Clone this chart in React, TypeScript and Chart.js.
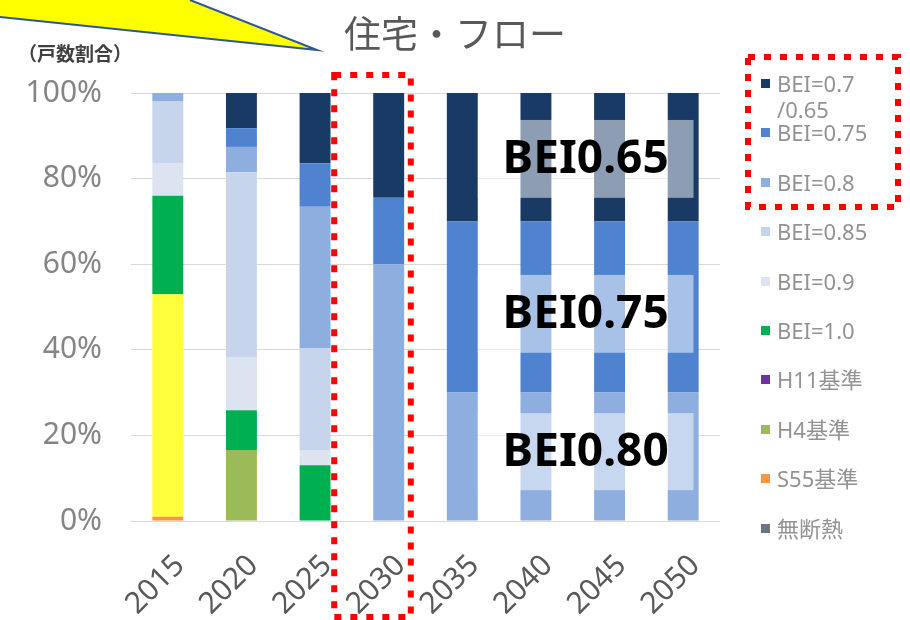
import React, { useEffect, useRef } from 'react';
import { Chart, registerables } from 'chart.js';

Chart.register(...registerables);

// ---- data ----
const years = ['2015', '2020', '2025', '2030', '2035', '2040', '2045', '2050'];
const mudannetsu = [0, 0, 0, 0, 0, 0, 0, 0];
const s55 = [1, 0, 0, 0, 0, 0, 0, 0];
const h4 = [52, 16.6, 0, 0, 0, 0, 0, 0];
const h11 = [0, 0, 0, 0, 0, 0, 0, 0];
const bei100 = [23, 9.3, 13, 0, 0, 0, 0, 0];
const bei090 = [7.5, 12.4, 3.6, 0, 0, 0, 0, 0];
const bei085 = [14.5, 43.2, 23.8, 0, 0, 0, 0, 0];
const bei080 = [2, 5.9, 33, 60, 30, 30, 30, 30];
const bei075 = [0, 4.4, 10.2, 15.5, 40, 40, 40, 40];
const bei070 = [0, 8.2, 16.4, 24.5, 30, 30, 30, 30];

const seriesValues = [mudannetsu, s55, h4, h11, bei100, bei090, bei085, bei080, bei075, bei070];
const seriesNames = ['無断熱', 'S55基準', 'H4基準', 'H11基準', 'BEI=1.0', 'BEI=0.9', 'BEI=0.85', 'BEI=0.8', 'BEI=0.75', 'BEI=0.7\n/0.65'];
const seriesColors = ['#6d7585', '#f79646', '#9bbb59', '#7030a0', '#00b050', '#dde3f1', '#c6d4ec', '#8eaee0', '#4f83cf', '#1a3a66'];
const h4BarColors = ['#ffff3c', '#9bbb59', '#9bbb59', '#9bbb59', '#9bbb59', '#9bbb59', '#9bbb59', '#9bbb59'];

const yTickValues = [0, 20, 40, 60, 80, 100];
const chartTitle = '住宅・フロー';
const yCaption = '（戸数割合）';

const noteTexts = ['BEI0.65', 'BEI0.75', 'BEI0.80'];
const noteLow = [75.5, 39.3, 7.2];
const noteHigh = [93.7, 57.5, 25.2];

const overlayPlugin = {
  id: 'overlayPlugin',
  afterDatasetsDraw(chart: any) {
    const { ctx, scales } = chart;
    const x = scales.x;
    const y = scales.y;
    const cat = x.getPixelForValue(1) - x.getPixelForValue(0);
    const left = x.getPixelForValue(4) + cat * 0.21;
    const right = x.getPixelForValue(7) + cat * 0.14;
    ctx.save();
    noteTexts.forEach((t, i) => {
      const top = y.getPixelForValue(noteHigh[i]);
      const bot = y.getPixelForValue(noteLow[i]);
      ctx.fillStyle = 'rgba(255,255,255,0.5)';
      ctx.fillRect(left, top, right - left, bot - top);
      ctx.fillStyle = '#000000';
      ctx.font = 'bold 46px "Noto Sans", sans-serif';
      ctx.textAlign = 'center';
      ctx.textBaseline = 'middle';
      ctx.fillText(t, (left + right) / 2, (top + bot) / 2 + 1);
    });
    ctx.restore();
  },
  afterDraw(chart: any) {
    const { ctx, scales, chartArea } = chart;
    const x = scales.x;
    const cat = x.getPixelForValue(1) - x.getPixelForValue(0);
    ctx.save();
    // title
    ctx.fillStyle = '#595959';
    ctx.font = '37px "Noto Sans CJK JP", sans-serif';
    ctx.textAlign = 'center';
    ctx.textBaseline = 'middle';
    ctx.fillText(chartTitle, 455, 34);

    // y caption
    ctx.fillStyle = '#404040';
    ctx.font = 'bold 19px "Noto Sans CJK JP", sans-serif';
    ctx.textAlign = 'left';
    ctx.textBaseline = 'middle';
    ctx.fillText(yCaption, 18, 54);

    // red dotted frames
    ctx.strokeStyle = '#ff0000';
    ctx.lineWidth = 6;
    ctx.setLineDash([7, 9]);
    const cx = x.getPixelForValue(3);
    const l = cx - cat * 0.74;
    const r = cx + cat * 0.3;
    ctx.strokeRect(l, chartArea.top - 18, r - l, chart.height - 3 - (chartArea.top - 18));
    ctx.strokeRect(chartArea.right + 28, 57, 150, 150);
    ctx.setLineDash([]);

    // yellow callout
    ctx.beginPath();
    ctx.moveTo(0, 0);
    ctx.lineTo(190, 0);
    ctx.lineTo(317, 50);
    ctx.lineTo(0, 17);
    ctx.closePath();
    ctx.fillStyle = '#ffff00';
    ctx.fill();
    ctx.beginPath();
    ctx.moveTo(190, 0);
    ctx.lineTo(317, 50);
    ctx.lineTo(0, 17);
    ctx.strokeStyle = '#2f5597';
    ctx.lineWidth = 2;
    ctx.stroke();
    ctx.restore();
  },
};

export default function App() {
  const canvasRef = useRef<HTMLCanvasElement | null>(null);

  useEffect(() => {
    const canvas = canvasRef.current;
    if (!canvas) return;
    const datasets = seriesValues.map((vals, i) => ({
      label: seriesNames[i],
      data: vals,
      backgroundColor: i === 2 ? h4BarColors : seriesColors[i],
      borderWidth: 0,
      categoryPercentage: 1,
      barPercentage: 0.42,
    }));
    const chart = new Chart(canvas, {
      type: 'bar',
      data: { labels: years, datasets },
      options: {
        responsive: false,
        animation: false,
        devicePixelRatio: 1,
        layout: { padding: { left: 0, right: 190, top: 93, bottom: 0 } },
        plugins: {
          legend: { display: false },
          tooltip: { enabled: false },
          title: { display: false },
        },
        scales: {
          x: {
            stacked: true,
            grid: { display: false },
            border: { display: false },
            ticks: {
              color: '#595959',
              font: { family: '"Noto Sans", sans-serif', size: 30 },
              minRotation: 45,
              maxRotation: 45,
              padding: 19,
              labelOffset: 12,
            },
            afterFit: (scale: any) => {
              scale.height = 99;
            },
          },
          y: {
            stacked: true,
            min: 0,
            max: 100,
            afterBuildTicks: (scale: any) => {
              scale.ticks = yTickValues.map((v) => ({ value: v }));
            },
            grid: { color: '#d9d9d9', drawTicks: false },
            border: { display: false },
            ticks: {
              color: '#858585',
              font: { family: '"Noto Sans", sans-serif', size: 30 },
              padding: 29,
              callback: (v: any) => v + '%',
            },
            afterFit: (scale: any) => {
              scale.width = 131;
            },
          },
        },
      },
      plugins: [overlayPlugin],
    });
    return () => chart.destroy();
  }, []);

  const legendItems = seriesNames.map((n, i) => ({ name: n, color: seriesColors[i] })).reverse();

  return (
    <div style={{ position: 'fixed', left: 0, top: 0, width: 910, height: 620, background: '#ffffff', overflow: 'hidden' }}>
      <canvas ref={canvasRef} width={910} height={620} style={{ width: 910, height: 620, display: 'block' }} />
      {legendItems.map((it, i) => (
        <div
          key={it.name}
          style={{
            position: 'absolute',
            left: 761,
            top: 70 + i * 49.4,
            display: 'flex',
            alignItems: 'flex-start',
            fontFamily: '"Noto Sans", "Noto Sans CJK JP", sans-serif',
            fontSize: 22,
            lineHeight: '26px',
            color: '#939393',
            whiteSpace: 'pre',
          }}
        >
          <span style={{ display: 'inline-block', width: 9, height: 9, background: it.color, marginTop: 9, marginRight: 7 }} />
          <span>{it.name}</span>
        </div>
      ))}
    </div>
  );
}
